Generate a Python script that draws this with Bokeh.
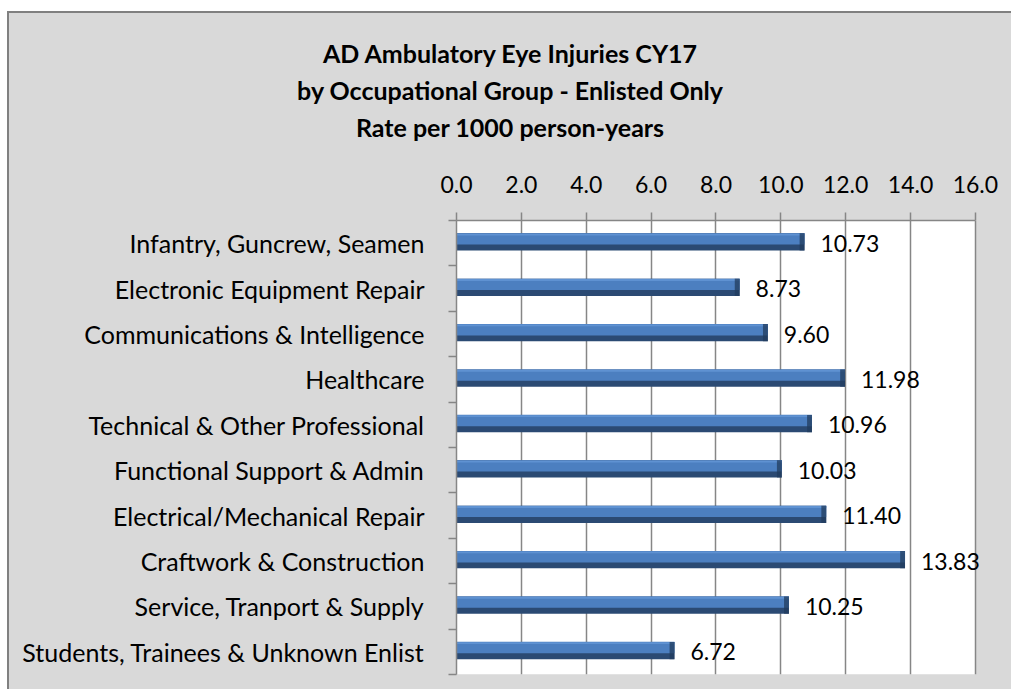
from bokeh.plotting import figure
from bokeh.layouts import column
from bokeh.models import FixedTicker, LabelSet, ColumnDataSource, Range1d, PrintfTickFormatter, Div
from bokeh.core.properties import value
from bokeh.embed import file_html
from bokeh.resources import INLINE

categories = [
    "Infantry, Guncrew, Seamen",
    "Electronic Equipment Repair",
    "Communications & Intelligence",
    "Healthcare",
    "Technical & Other Professional",
    "Functional Support & Admin",
    "Electrical/Mechanical Repair",
    "Craftwork & Construction",
    "Service, Tranport & Supply",
    "Students, Trainees & Unknown Enlist",
]
rates = [10.73, 8.73, 9.60, 11.98, 10.96, 10.03, 11.40, 13.83, 10.25, 6.72]
x_ticks = [0, 2, 4, 6, 8, 10, 12, 14, 16]
title_lines = [
    "AD Ambulatory Eye Injuries CY17",
    "by Occupational Group - Enlisted Only",
    "Rate per 1000 person-years",
]

FONT = "Lato"
GRAY_BG = "#d9d9d9"
GRID = "#868686"
W = 1002

n = len(categories)
ypos = [n - i - 0.5 for i in range(n)]
labels = [f"{r:.2f}" for r in rates]

src = ColumnDataSource(dict(
    y=ypos,
    y_dark=[y + 0.028 for y in ypos],
    y_light=[y + 0.094 for y in ypos],
    y_hi=[y + 0.19 for y in ypos],
    rate=rates,
    cap_left=[r - 0.15 for r in rates],
    label=labels,
))

# ---------------- title (HTML text block) ----------------
TH = 150
title_html = (
    f'<div style="width:{W}px;height:{TH}px;box-sizing:border-box;padding-top:22px;'
    f'text-align:center;font-family:{FONT};font-weight:bold;font-size:25px;'
    f'line-height:37px;color:black;background:{GRAY_BG};margin:0;">'
    + "<br>".join(title_lines) + "</div>"
)
t = Div(text=title_html, width=W, height=TH,
        styles={"background-color": GRAY_BG, "margin": "0", "padding": "0"})

# ---------------- main chart ----------------
x_max = x_ticks[-1] + 0.62   # room for the value label past the last grid line
p = figure(
    width=W, height=526,
    x_range=Range1d(0, x_max), y_range=Range1d(0, n),
    x_axis_location="above",
    output_backend="svg", toolbar_location=None,
    min_border_left=447, min_border_right=16, min_border_top=57, min_border_bottom=15,
)
p.background_fill_color = GRAY_BG
p.border_fill_color = GRAY_BG
p.outline_line_color = None

# white plot area up to the last tick
p.quad(left=[x_ticks[0]], right=[x_ticks[-1]], bottom=[0], top=[n],
       fill_color="white", line_color=None, level="underlay")

# bars (pseudo gradient + darker end cap)
p.hbar(y="y_dark", left=0, right="rate", height=0.38, source=src, fill_color="#2b4a73", line_color=None)
p.hbar(y="y_light", left=0, right="rate", height=0.25, source=src, fill_color="#4c7fc0", line_color=None)
p.hbar(y="y_hi", left=0, right="rate", height=0.04, source=src, fill_color="#5f92d2", line_color=None)
p.hbar(y="y_dark", left="cap_left", right="rate", height=0.38, source=src,
       fill_color="#223c5e", fill_alpha=0.75, line_color=None)

# value labels
p.add_layout(LabelSet(x="rate", y="y", text="label", source=src, x_offset=16,
                      text_baseline="middle", text_font=value(FONT),
                      text_font_size="23px", text_color="black"))

# x axis
xa = p.xaxis[0]
xa.bounds = (x_ticks[0], x_ticks[-1])
xa.ticker = FixedTicker(ticks=x_ticks)
xa.formatter = PrintfTickFormatter(format="%.1f")
xa.major_label_text_font = FONT
xa.major_label_text_font_size = "23px"
xa.major_label_text_color = "black"
xa.major_label_standoff = 20
xa.axis_line_color = GRID
xa.axis_line_width = 1.5
xa.major_tick_line_color = GRID
xa.major_tick_line_width = 1.5
xa.major_tick_out = 8
xa.major_tick_in = 0
xa.minor_tick_line_color = None

# y axis
ya = p.yaxis[0]
ya.ticker = FixedTicker(ticks=ypos, minor_ticks=list(range(n + 1)))
ya.major_label_overrides = {y: c for y, c in zip(ypos, categories)}
ya.major_label_text_font = FONT
ya.major_label_text_font_size = "25px"
ya.major_label_text_color = "black"
ya.major_label_standoff = 24
ya.major_tick_line_color = None
ya.major_tick_out = 0
ya.major_tick_in = 0
ya.minor_tick_line_color = GRID
ya.minor_tick_line_width = 1.5
ya.minor_tick_out = 8
ya.minor_tick_in = 0
ya.axis_line_color = GRID
ya.axis_line_width = 1.5

# grid
p.xgrid.ticker = FixedTicker(ticks=x_ticks)
p.xgrid.grid_line_color = GRID
p.xgrid.grid_line_width = 1.5
p.ygrid.grid_line_color = None

layout = column(t, p, spacing=0)
layout.styles = {"border-left": "2px solid #808080", "border-top": "2px solid #808080",
                 "margin-top": "11px", "margin-left": "7px", "background-color": GRAY_BG}

open("out.html", "w").write(file_html(layout, INLINE))
